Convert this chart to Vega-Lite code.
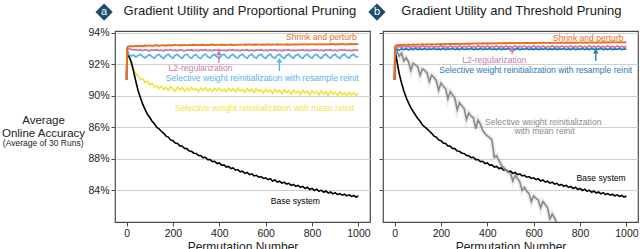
{
"$schema":"https://vega.github.io/schema/vega-lite/v6.json",
"padding":{"left":0,"top":2,"right":2,"bottom":0},
"bounds":"flush",
"spacing":13,
"datasets":{
"a":[
{"x":0,"sp":91.0,"l2":91.0,"rs":91.0,"mr":91.0,"bs":91.0},
{"x":2,"sp":93.02,"l2":92.98,"rs":92.9,"mr":92.9,"bs":92.9},
{"x":5,"sp":93.1,"l2":93.0,"rs":92.75,"mr":92.65,"bs":92.75},
{"x":10,"sp":93.12,"l2":92.97,"rs":92.6,"mr":92.42,"bs":92.5},
{"x":20,"sp":93.14,"l2":92.93,"rs":92.52,"mr":92.05,"bs":92.15},
{"x":30,"sp":93.13,"l2":92.9,"rs":92.58,"mr":91.65,"bs":91.55},
{"x":40,"sp":93.16,"l2":92.92,"rs":92.45,"mr":91.4,"bs":90.9},
{"x":50,"sp":93.15,"l2":92.87,"rs":92.55,"mr":91.25,"bs":90.3},
{"x":60,"sp":93.17,"l2":92.9,"rs":92.62,"mr":91.02,"bs":89.85},
{"x":70,"sp":93.14,"l2":92.86,"rs":92.48,"mr":91.08,"bs":89.45},
{"x":80,"sp":93.18,"l2":92.92,"rs":92.4,"mr":90.85,"bs":89.12},
{"x":90,"sp":93.16,"l2":92.88,"rs":92.52,"mr":90.92,"bs":88.82},
{"x":100,"sp":93.19,"l2":92.85,"rs":92.6,"mr":90.7,"bs":88.62},
{"x":110,"sp":93.15,"l2":92.9,"rs":92.46,"mr":90.78,"bs":88.38},
{"x":120,"sp":93.18,"l2":92.87,"rs":92.38,"mr":90.55,"bs":88.22},
{"x":130,"sp":93.2,"l2":92.91,"rs":92.55,"mr":90.62,"bs":88.0},
{"x":140,"sp":93.17,"l2":92.86,"rs":92.62,"mr":90.45,"bs":87.9},
{"x":150,"sp":93.19,"l2":92.89,"rs":92.47,"mr":90.6,"bs":87.75},
{"x":160,"sp":93.2,"l2":92.85,"rs":92.36,"mr":90.4,"bs":87.62},
{"x":170,"sp":93.17,"l2":92.9,"rs":92.54,"mr":90.52,"bs":87.44},
{"x":180,"sp":93.21,"l2":92.87,"rs":92.63,"mr":90.35,"bs":87.38},
{"x":190,"sp":93.18,"l2":92.92,"rs":92.48,"mr":90.58,"bs":87.2},
{"x":200,"sp":93.2,"l2":92.86,"rs":92.37,"mr":90.42,"bs":87.15},
{"x":210,"sp":93.22,"l2":92.89,"rs":92.56,"mr":90.3,"bs":87.0},
{"x":220,"sp":93.19,"l2":92.85,"rs":92.62,"mr":90.55,"bs":86.98},
{"x":230,"sp":93.21,"l2":92.9,"rs":92.45,"mr":90.38,"bs":86.82},
{"x":240,"sp":93.2,"l2":92.88,"rs":92.38,"mr":90.5,"bs":86.8},
{"x":250,"sp":93.22,"l2":92.84,"rs":92.57,"mr":90.28,"bs":86.66},
{"x":260,"sp":93.19,"l2":92.9,"rs":92.63,"mr":90.46,"bs":86.65},
{"x":270,"sp":93.22,"l2":92.87,"rs":92.46,"mr":90.33,"bs":86.5},
{"x":280,"sp":93.21,"l2":92.91,"rs":92.37,"mr":90.52,"bs":86.48},
{"x":290,"sp":93.23,"l2":92.86,"rs":92.55,"mr":90.36,"bs":86.36},
{"x":300,"sp":93.2,"l2":92.89,"rs":92.61,"mr":90.45,"bs":86.34},
{"x":310,"sp":93.22,"l2":92.85,"rs":92.44,"mr":90.25,"bs":86.22},
{"x":320,"sp":93.21,"l2":92.9,"rs":92.36,"mr":90.48,"bs":86.2},
{"x":330,"sp":93.23,"l2":92.87,"rs":92.56,"mr":90.34,"bs":86.08},
{"x":340,"sp":93.2,"l2":92.91,"rs":92.64,"mr":90.5,"bs":86.1},
{"x":350,"sp":93.22,"l2":92.86,"rs":92.47,"mr":90.3,"bs":85.95},
{"x":360,"sp":93.21,"l2":92.89,"rs":92.38,"mr":90.44,"bs":85.96},
{"x":370,"sp":93.24,"l2":92.85,"rs":92.55,"mr":90.27,"bs":85.83},
{"x":380,"sp":93.21,"l2":92.9,"rs":92.62,"mr":90.46,"bs":85.85},
{"x":390,"sp":93.23,"l2":92.87,"rs":92.45,"mr":90.32,"bs":85.7},
{"x":400,"sp":93.22,"l2":92.91,"rs":92.37,"mr":90.5,"bs":85.74},
{"x":410,"sp":93.24,"l2":92.86,"rs":92.56,"mr":90.28,"bs":85.6},
{"x":420,"sp":93.21,"l2":92.89,"rs":92.63,"mr":90.42,"bs":85.62},
{"x":430,"sp":93.23,"l2":92.85,"rs":92.46,"mr":90.26,"bs":85.48},
{"x":440,"sp":93.22,"l2":92.9,"rs":92.37,"mr":90.47,"bs":85.52},
{"x":450,"sp":93.24,"l2":92.87,"rs":92.55,"mr":90.3,"bs":85.38},
{"x":460,"sp":93.21,"l2":92.91,"rs":92.62,"mr":90.44,"bs":85.42},
{"x":470,"sp":93.23,"l2":92.86,"rs":92.45,"mr":90.25,"bs":85.28},
{"x":480,"sp":93.22,"l2":92.89,"rs":92.38,"mr":90.46,"bs":85.32},
{"x":490,"sp":93.25,"l2":92.85,"rs":92.56,"mr":90.3,"bs":85.18},
{"x":500,"sp":93.22,"l2":92.9,"rs":92.63,"mr":90.4,"bs":85.22},
{"x":510,"sp":93.24,"l2":92.87,"rs":92.46,"mr":90.22,"bs":85.08},
{"x":520,"sp":93.23,"l2":92.91,"rs":92.37,"mr":90.45,"bs":85.14},
{"x":530,"sp":93.25,"l2":92.86,"rs":92.55,"mr":90.28,"bs":85.0},
{"x":540,"sp":93.22,"l2":92.89,"rs":92.63,"mr":90.42,"bs":85.05},
{"x":550,"sp":93.24,"l2":92.85,"rs":92.45,"mr":90.2,"bs":84.92},
{"x":560,"sp":93.23,"l2":92.9,"rs":92.38,"mr":90.44,"bs":84.96},
{"x":570,"sp":93.25,"l2":92.87,"rs":92.56,"mr":90.27,"bs":84.84},
{"x":580,"sp":93.22,"l2":92.91,"rs":92.62,"mr":90.38,"bs":84.88},
{"x":590,"sp":93.24,"l2":92.86,"rs":92.46,"mr":90.18,"bs":84.76},
{"x":600,"sp":93.23,"l2":92.89,"rs":92.37,"mr":90.42,"bs":84.8},
{"x":610,"sp":93.26,"l2":92.85,"rs":92.55,"mr":90.25,"bs":84.68},
{"x":620,"sp":93.23,"l2":92.9,"rs":92.63,"mr":90.36,"bs":84.74},
{"x":630,"sp":93.25,"l2":92.87,"rs":92.45,"mr":90.15,"bs":84.6},
{"x":640,"sp":93.24,"l2":92.91,"rs":92.38,"mr":90.4,"bs":84.66},
{"x":650,"sp":93.26,"l2":92.86,"rs":92.56,"mr":90.22,"bs":84.53},
{"x":660,"sp":93.23,"l2":92.89,"rs":92.62,"mr":90.35,"bs":84.58},
{"x":670,"sp":93.25,"l2":92.85,"rs":92.46,"mr":90.12,"bs":84.46},
{"x":680,"sp":93.24,"l2":92.9,"rs":92.37,"mr":90.38,"bs":84.52},
{"x":690,"sp":93.26,"l2":92.87,"rs":92.55,"mr":90.2,"bs":84.4},
{"x":700,"sp":93.23,"l2":92.91,"rs":92.63,"mr":90.33,"bs":84.45},
{"x":710,"sp":93.25,"l2":92.86,"rs":92.46,"mr":90.1,"bs":84.32},
{"x":720,"sp":93.24,"l2":92.89,"rs":92.38,"mr":90.36,"bs":84.38},
{"x":730,"sp":93.26,"l2":92.85,"rs":92.56,"mr":90.18,"bs":84.26},
{"x":740,"sp":93.24,"l2":92.9,"rs":92.62,"mr":90.3,"bs":84.32},
{"x":750,"sp":93.26,"l2":92.87,"rs":92.45,"mr":90.08,"bs":84.2},
{"x":760,"sp":93.25,"l2":92.91,"rs":92.37,"mr":90.34,"bs":84.26},
{"x":770,"sp":93.27,"l2":92.86,"rs":92.55,"mr":90.16,"bs":84.12},
{"x":780,"sp":93.24,"l2":92.89,"rs":92.63,"mr":90.28,"bs":84.2},
{"x":790,"sp":93.26,"l2":92.85,"rs":92.46,"mr":90.06,"bs":84.06},
{"x":800,"sp":93.25,"l2":92.9,"rs":92.38,"mr":90.32,"bs":84.13},
{"x":810,"sp":93.27,"l2":92.87,"rs":92.56,"mr":90.14,"bs":84.0},
{"x":820,"sp":93.24,"l2":92.91,"rs":92.62,"mr":90.27,"bs":84.08},
{"x":830,"sp":93.26,"l2":92.86,"rs":92.45,"mr":90.05,"bs":83.94},
{"x":840,"sp":93.25,"l2":92.89,"rs":92.37,"mr":90.3,"bs":84.02},
{"x":850,"sp":93.27,"l2":92.85,"rs":92.55,"mr":90.12,"bs":83.88},
{"x":860,"sp":93.25,"l2":92.9,"rs":92.63,"mr":90.25,"bs":83.96},
{"x":870,"sp":93.27,"l2":92.87,"rs":92.46,"mr":90.03,"bs":83.84},
{"x":880,"sp":93.26,"l2":92.91,"rs":92.38,"mr":90.28,"bs":83.9},
{"x":890,"sp":93.28,"l2":92.86,"rs":92.56,"mr":90.1,"bs":83.78},
{"x":900,"sp":93.25,"l2":92.89,"rs":92.62,"mr":90.22,"bs":83.86},
{"x":910,"sp":93.27,"l2":92.85,"rs":92.45,"mr":90.02,"bs":83.74},
{"x":920,"sp":93.26,"l2":92.9,"rs":92.37,"mr":90.26,"bs":83.8},
{"x":930,"sp":93.28,"l2":92.87,"rs":92.55,"mr":90.08,"bs":83.7},
{"x":940,"sp":93.25,"l2":92.91,"rs":92.63,"mr":90.2,"bs":83.76},
{"x":950,"sp":93.27,"l2":92.86,"rs":92.46,"mr":90.0,"bs":83.66},
{"x":960,"sp":93.26,"l2":92.89,"rs":92.38,"mr":90.24,"bs":83.72},
{"x":970,"sp":93.28,"l2":92.85,"rs":92.56,"mr":90.06,"bs":83.62},
{"x":980,"sp":93.26,"l2":92.9,"rs":92.62,"mr":90.18,"bs":83.68},
{"x":990,"sp":93.28,"l2":92.87,"rs":92.45,"mr":90.02,"bs":83.58},
{"x":1000,"sp":93.27,"l2":92.9,"rs":92.5,"mr":90.15,"bs":83.64}
],
"b":[
{"x":0,"sp":91.0,"l2":91.0,"rs":91.0,"mr":91.0,"bs":91.0},
{"x":2,"sp":93.1,"l2":93.0,"rs":92.95,"mr":93.1,"bs":92.94},
{"x":5,"sp":93.18,"l2":93.05,"rs":92.9,"mr":92.98,"bs":92.6},
{"x":10,"sp":93.2,"l2":93.08,"rs":92.93,"mr":92.85,"bs":92.2},
{"x":20,"sp":93.22,"l2":93.12,"rs":92.9,"mr":92.5,"bs":91.4},
{"x":30,"sp":93.21,"l2":93.06,"rs":92.97,"mr":92.7,"bs":90.8},
{"x":40,"sp":93.23,"l2":93.14,"rs":92.92,"mr":92.2,"bs":90.3},
{"x":50,"sp":93.22,"l2":93.08,"rs":92.98,"mr":92.4,"bs":89.88},
{"x":60,"sp":93.24,"l2":93.13,"rs":92.91,"mr":92.15,"bs":89.55},
{"x":70,"sp":93.22,"l2":93.06,"rs":92.96,"mr":91.6,"bs":89.25},
{"x":80,"sp":93.25,"l2":93.15,"rs":92.93,"mr":92.05,"bs":89.0},
{"x":90,"sp":93.23,"l2":93.07,"rs":92.99,"mr":91.95,"bs":88.78},
{"x":100,"sp":93.25,"l2":93.12,"rs":92.92,"mr":91.82,"bs":88.55},
{"x":110,"sp":93.24,"l2":93.06,"rs":92.97,"mr":91.3,"bs":88.38},
{"x":120,"sp":93.26,"l2":93.16,"rs":92.93,"mr":91.7,"bs":88.15},
{"x":130,"sp":93.24,"l2":93.08,"rs":92.99,"mr":91.6,"bs":88.02},
{"x":140,"sp":93.26,"l2":93.13,"rs":92.92,"mr":91.45,"bs":87.9},
{"x":150,"sp":93.25,"l2":93.07,"rs":92.97,"mr":90.9,"bs":87.75},
{"x":160,"sp":93.27,"l2":93.15,"rs":92.94,"mr":91.3,"bs":87.62},
{"x":170,"sp":93.25,"l2":93.06,"rs":92.99,"mr":91.15,"bs":87.44},
{"x":180,"sp":93.27,"l2":93.12,"rs":92.92,"mr":90.95,"bs":87.38},
{"x":190,"sp":93.26,"l2":93.08,"rs":92.97,"mr":90.35,"bs":87.2},
{"x":200,"sp":93.28,"l2":93.16,"rs":92.93,"mr":90.8,"bs":87.15},
{"x":210,"sp":93.26,"l2":93.07,"rs":92.99,"mr":90.6,"bs":87.0},
{"x":220,"sp":93.28,"l2":93.13,"rs":92.92,"mr":90.45,"bs":86.98},
{"x":230,"sp":93.27,"l2":93.06,"rs":92.97,"mr":89.8,"bs":86.82},
{"x":240,"sp":93.29,"l2":93.15,"rs":92.94,"mr":90.25,"bs":86.8},
{"x":250,"sp":93.27,"l2":93.08,"rs":92.99,"mr":90.05,"bs":86.66},
{"x":260,"sp":93.29,"l2":93.12,"rs":92.92,"mr":89.85,"bs":86.65},
{"x":270,"sp":93.28,"l2":93.07,"rs":92.97,"mr":89.1,"bs":86.5},
{"x":280,"sp":93.3,"l2":93.16,"rs":92.93,"mr":89.55,"bs":86.48},
{"x":290,"sp":93.28,"l2":93.06,"rs":92.99,"mr":89.35,"bs":86.36},
{"x":300,"sp":93.3,"l2":93.13,"rs":92.92,"mr":89.2,"bs":86.34},
{"x":310,"sp":93.29,"l2":93.08,"rs":92.97,"mr":88.5,"bs":86.22},
{"x":320,"sp":93.31,"l2":93.15,"rs":92.94,"mr":88.9,"bs":86.2},
{"x":330,"sp":93.29,"l2":93.07,"rs":92.99,"mr":88.7,"bs":86.08},
{"x":340,"sp":93.31,"l2":93.12,"rs":92.92,"mr":88.6,"bs":86.1},
{"x":350,"sp":93.3,"l2":93.06,"rs":92.97,"mr":87.9,"bs":85.95},
{"x":360,"sp":93.32,"l2":93.16,"rs":92.93,"mr":88.45,"bs":85.96},
{"x":370,"sp":93.3,"l2":93.08,"rs":92.99,"mr":88.2,"bs":85.83},
{"x":380,"sp":93.32,"l2":93.13,"rs":92.92,"mr":87.8,"bs":85.85},
{"x":390,"sp":93.31,"l2":93.07,"rs":92.97,"mr":87.6,"bs":85.7},
{"x":400,"sp":93.32,"l2":93.15,"rs":92.94,"mr":87.45,"bs":85.74},
{"x":410,"sp":93.31,"l2":93.06,"rs":92.99,"mr":87.35,"bs":85.6},
{"x":420,"sp":93.33,"l2":93.12,"rs":92.92,"mr":87.2,"bs":85.62},
{"x":430,"sp":93.31,"l2":93.08,"rs":92.97,"mr":86.1,"bs":85.48},
{"x":440,"sp":93.33,"l2":93.16,"rs":92.93,"mr":86.2,"bs":85.52},
{"x":450,"sp":93.32,"l2":93.07,"rs":92.99,"mr":85.9,"bs":85.38},
{"x":460,"sp":93.33,"l2":93.13,"rs":92.92,"mr":85.6,"bs":85.42},
{"x":470,"sp":93.32,"l2":93.06,"rs":92.97,"mr":85.45,"bs":85.28},
{"x":480,"sp":93.34,"l2":93.15,"rs":92.94,"mr":85.3,"bs":85.32},
{"x":490,"sp":93.32,"l2":93.08,"rs":92.99,"mr":85.15,"bs":85.18},
{"x":500,"sp":93.34,"l2":93.12,"rs":92.92,"mr":85.1,"bs":85.22},
{"x":510,"sp":93.33,"l2":93.07,"rs":92.97,"mr":84.6,"bs":85.08},
{"x":520,"sp":93.34,"l2":93.16,"rs":92.93,"mr":84.95,"bs":85.14},
{"x":530,"sp":93.33,"l2":93.06,"rs":92.99,"mr":84.75,"bs":85.0},
{"x":540,"sp":93.35,"l2":93.13,"rs":92.92,"mr":84.55,"bs":85.05},
{"x":550,"sp":93.33,"l2":93.08,"rs":92.97,"mr":84.0,"bs":84.92},
{"x":560,"sp":93.35,"l2":93.15,"rs":92.94,"mr":84.2,"bs":84.96},
{"x":570,"sp":93.34,"l2":93.07,"rs":92.99,"mr":83.95,"bs":84.84},
{"x":580,"sp":93.35,"l2":93.12,"rs":92.92,"mr":83.8,"bs":84.88},
{"x":590,"sp":93.33,"l2":93.06,"rs":92.97,"mr":83.3,"bs":84.76},
{"x":600,"sp":93.35,"l2":93.16,"rs":92.93,"mr":83.65,"bs":84.8},
{"x":610,"sp":93.34,"l2":93.08,"rs":92.99,"mr":83.5,"bs":84.68},
{"x":620,"sp":93.36,"l2":93.13,"rs":92.92,"mr":83.4,"bs":84.74},
{"x":630,"sp":93.34,"l2":93.07,"rs":92.97,"mr":82.9,"bs":84.6},
{"x":640,"sp":93.36,"l2":93.15,"rs":92.94,"mr":83.3,"bs":84.66},
{"x":650,"sp":93.35,"l2":93.06,"rs":92.99,"mr":83.1,"bs":84.53},
{"x":660,"sp":93.36,"l2":93.12,"rs":92.92,"mr":82.9,"bs":84.58},
{"x":670,"sp":93.34,"l2":93.08,"rs":92.97,"mr":82.2,"bs":84.46},
{"x":680,"sp":93.36,"l2":93.16,"rs":92.93,"mr":82.5,"bs":84.52},
{"x":690,"sp":93.35,"l2":93.07,"rs":92.99,"mr":82.25,"bs":84.4},
{"x":700,"sp":93.36,"l2":93.13,"rs":92.92,"mr":81.9,"bs":84.45},
{"x":710,"sp":93.35,"l2":93.06,"rs":92.97,"mr":81.3,"bs":84.32},
{"x":720,"sp":93.37,"l2":93.15,"rs":92.94,"mr":81.2,"bs":84.38},
{"x":730,"sp":93.35,"l2":93.08,"rs":92.99,"bs":84.26},
{"x":740,"sp":93.37,"l2":93.12,"rs":92.92,"bs":84.32},
{"x":750,"sp":93.36,"l2":93.07,"rs":92.97,"bs":84.2},
{"x":760,"sp":93.37,"l2":93.16,"rs":92.93,"bs":84.26},
{"x":770,"sp":93.35,"l2":93.06,"rs":92.99,"bs":84.12},
{"x":780,"sp":93.37,"l2":93.13,"rs":92.92,"bs":84.2},
{"x":790,"sp":93.36,"l2":93.08,"rs":92.97,"bs":84.06},
{"x":800,"sp":93.38,"l2":93.15,"rs":92.94,"bs":84.13},
{"x":810,"sp":93.36,"l2":93.07,"rs":92.99,"bs":84.0},
{"x":820,"sp":93.38,"l2":93.12,"rs":92.92,"bs":84.08},
{"x":830,"sp":93.36,"l2":93.06,"rs":92.97,"bs":83.94},
{"x":840,"sp":93.38,"l2":93.16,"rs":92.93,"bs":84.02},
{"x":850,"sp":93.37,"l2":93.08,"rs":92.99,"bs":83.88},
{"x":860,"sp":93.38,"l2":93.13,"rs":92.92,"bs":83.96},
{"x":870,"sp":93.36,"l2":93.07,"rs":92.97,"bs":83.84},
{"x":880,"sp":93.38,"l2":93.15,"rs":92.94,"bs":83.9},
{"x":890,"sp":93.37,"l2":93.06,"rs":92.99,"bs":83.78},
{"x":900,"sp":93.39,"l2":93.12,"rs":92.92,"bs":83.86},
{"x":910,"sp":93.37,"l2":93.08,"rs":92.97,"bs":83.74},
{"x":920,"sp":93.39,"l2":93.16,"rs":92.93,"bs":83.8},
{"x":930,"sp":93.37,"l2":93.07,"rs":92.99,"bs":83.7},
{"x":940,"sp":93.39,"l2":93.13,"rs":92.92,"bs":83.76},
{"x":950,"sp":93.38,"l2":93.06,"rs":92.97,"bs":83.66},
{"x":960,"sp":93.39,"l2":93.15,"rs":92.94,"bs":83.72},
{"x":970,"sp":93.37,"l2":93.08,"rs":92.99,"bs":83.62},
{"x":980,"sp":93.39,"l2":93.12,"rs":92.92,"bs":83.68},
{"x":990,"sp":93.38,"l2":93.07,"rs":92.97,"bs":83.58},
{"x":1000,"sp":93.39,"l2":93.13,"rs":92.94,"bs":83.64}
],
"ta":[
{"t":"Shrink and perturb","x":840,"acc":93.72,"c":"sp"},
{"t":"L2-regularization","x":319,"acc":91.78,"c":"l2"},
{"t":"Selective weight reinitialization with resample reinit","x":585,"acc":91.14,"c":"rs"},
{"t":"Selective weight reinitialization with mean reinit","x":594,"acc":89.2,"c":"mr"},
{"t":"Base system","x":728,"acc":83.33,"c":"bs"}
],
"tb":[
{"t":"Shrink and perturb","x":835,"acc":93.68,"c":"sp"},
{"t":"L2-regularization","x":430,"acc":92.24,"c":"l2"},
{"t":"Selective weight reinitialization with resample reinit","x":609,"acc":91.63,"c":"rs"},
{"t":"Selective weight reinitialization","x":641,"acc":88.34,"c":"mr"},
{"t":"with mean reinit","x":647,"acc":87.77,"c":"mr"},
{"t":"Base system","x":891,"acc":84.77,"c":"bs"}
],
"arA":[
{"x":398,"acc":92.09,"acc2":92.73,"c":"l2"},
{"x":659,"acc":91.57,"acc2":92.26,"c":"rs"}
],
"arB":[
{"x":507,"acc":92.62,"acc2":92.95,"c":"l2"},
{"x":868,"acc":92.2,"acc2":92.83,"c":"rs"}
],
"badgeA":[{"x":-97,"acc":95.3,"t":"a"}],
"badgeB":[{"x":-76,"acc":95.3,"t":"b"}],
"titA":[{"x":-13,"acc":95.37,"t":"Gradient Utility and Proportional Pruning"}],
"titB":[{"x":29,"acc":95.37,"t":"Gradient Utility and Threshold Pruning"}],
"sub":[{"x":-360,"acc":87.0,"t":"(Average of 30 Runs)"}]
},
"hconcat":[
{
"width":255,"height":191,
"encoding":{
"x":{"field":"x","type":"quantitative","scale":{"domain":[-50,1050],"nice":false,"zero":false},"axis":{"values":[0,200,400,600,800,1000],"format":"d","title":"Permutation Number","titleFontSize":12,"titlePadding":3,"grid":false,"tickSize":4,"labelPadding":2,"labelFontSize":10.5}},
"y":{"field":"acc","type":"quantitative","scale":{"domain":[82,94.1],"nice":false,"zero":false},"axis":{"values":[84,86,88,90,92,94],"labelExpr":"datum.value == 88 ? '86%' : datum.value == 86 ? '88%' : datum.value + '%'","title":["Average","Online Accuracy"],"titleAngle":0,"titleAlign":"center","titleBaseline":"middle","titleX":-72,"titleY":89.5,"titleFontSize":11.5,"titleLineHeight":13,"grid":true,"tickSize":4,"labelPadding":2,"labelFontSize":10.5}}
},
"layer":[
{"data":{"name":"a"},"transform":[{"fold":["mr","bs","rs","l2","sp"],"as":["series","acc"]},{"filter":"isValid(datum.acc)"}],
 "mark":{"type":"line","clip":true},
 "encoding":{"color":{"field":"series","type":"nominal","scale":{"domain":["sp","l2","rs","mr","bs"],"range":["#e4701f","#cc79a7","#56b4e9","#f0e442","#000000"]},"legend":null},
 "strokeWidth":{"field":"series","type":"nominal","scale":{"domain":["sp","l2","rs","mr","bs"],"range":[1.9,1.6,2.6,1.9,2.6]},"legend":null}}},
{"data":{"name":"ta"},"mark":{"type":"text","fontSize":8.6,"align":"center","baseline":"middle"},
 "encoding":{"text":{"field":"t"},"color":{"field":"c","type":"nominal","legend":null}}},
{"data":{"name":"arA"},"mark":{"type":"rule","strokeWidth":1.3},
 "encoding":{"y2":{"field":"acc2"},"color":{"field":"c","type":"nominal","legend":null}}},
{"data":{"name":"arA"},"mark":{"type":"point","shape":"triangle-up","filled":true,"size":30,"opacity":1},
 "encoding":{"y":{"field":"acc2","type":"quantitative"},"color":{"field":"c","type":"nominal","legend":null}}},
{"data":{"name":"badgeA"},"mark":{"type":"point","shape":"diamond","filled":true,"size":300,"color":"#1d4e6e","opacity":1}},
{"data":{"name":"badgeA"},"mark":{"type":"text","fontSize":11,"color":"white","align":"center","baseline":"middle"},"encoding":{"text":{"field":"t"}}},
{"data":{"name":"titA"},"mark":{"type":"text","fontSize":13,"color":"#1a1a1a","align":"left","baseline":"middle"},"encoding":{"text":{"field":"t"}}},
{"data":{"name":"sub"},"mark":{"type":"text","fontSize":8.5,"color":"#222222","align":"center","baseline":"middle"},"encoding":{"text":{"field":"t"}}}
]
},
{
"width":255,"height":191,
"encoding":{
"x":{"field":"x","type":"quantitative","scale":{"domain":[-50,1050],"nice":false,"zero":false},"axis":{"values":[0,200,400,600,800,1000],"format":"d","title":"Permutation Number","titleFontSize":12,"titlePadding":3,"grid":false,"tickSize":4,"labelPadding":2,"labelFontSize":10.5}},
"y":{"field":"acc","type":"quantitative","scale":{"domain":[82,94.1],"nice":false,"zero":false},"axis":{"values":[84,86,88,90,92,94],"labels":false,"title":null,"grid":true,"tickSize":4}}
},
"layer":[
{"data":{"name":"b"},"transform":[{"fold":["mr"],"as":["series","acc"]},{"filter":"isValid(datum.acc)"}],
 "mark":{"type":"line","clip":true,"strokeWidth":5,"color":"#c4c4c4","opacity":0.3}},
{"data":{"name":"b"},"transform":[{"fold":["bs","mr","l2","rs","sp"],"as":["series","acc"]},{"filter":"isValid(datum.acc)"}],
 "mark":{"type":"line","clip":true},
 "encoding":{"color":{"field":"series","type":"nominal","scale":{"domain":["sp","l2","rs","mr","bs"],"range":["#e4701f","#cc79a7","#1f77b4","#8a8a8a","#000000"]},"legend":null},
 "strokeWidth":{"field":"series","type":"nominal","scale":{"domain":["sp","l2","rs","mr","bs"],"range":[1.9,1.6,2.2,1.6,2.6]},"legend":null}}},
{"data":{"name":"tb"},"mark":{"type":"text","fontSize":8.6,"align":"center","baseline":"middle"},
 "encoding":{"text":{"field":"t"},"color":{"field":"c","type":"nominal","legend":null}}},
{"data":{"name":"arB"},"mark":{"type":"rule","strokeWidth":1.3},
 "encoding":{"y2":{"field":"acc2"},"color":{"field":"c","type":"nominal","legend":null}}},
{"data":{"name":"arB"},"mark":{"type":"point","shape":"triangle-up","filled":true,"size":30,"opacity":1},
 "encoding":{"y":{"field":"acc2","type":"quantitative"},"color":{"field":"c","type":"nominal","legend":null}}},
{"data":{"name":"badgeB"},"mark":{"type":"point","shape":"diamond","filled":true,"size":300,"color":"#1d4e6e","opacity":1}},
{"data":{"name":"badgeB"},"mark":{"type":"text","fontSize":11,"color":"white","align":"center","baseline":"middle"},"encoding":{"text":{"field":"t"}}},
{"data":{"name":"titB"},"mark":{"type":"text","fontSize":13,"color":"#1a1a1a","align":"left","baseline":"middle"},"encoding":{"text":{"field":"t"}}}
]
}
],
"resolve":{"scale":{"color":"independent","strokeWidth":"independent"}},
"config":{
"font":"Liberation Sans",
"view":{"stroke":"#4a4a4a","strokeWidth":1.2},
"axis":{"domain":false,"tickColor":"#4a4a4a","gridColor":"#cfcfcf","labelColor":"#222222","titleColor":"#222222","titleFontWeight":"normal","labelFont":"Liberation Sans","titleFont":"Liberation Sans"}
}
}
